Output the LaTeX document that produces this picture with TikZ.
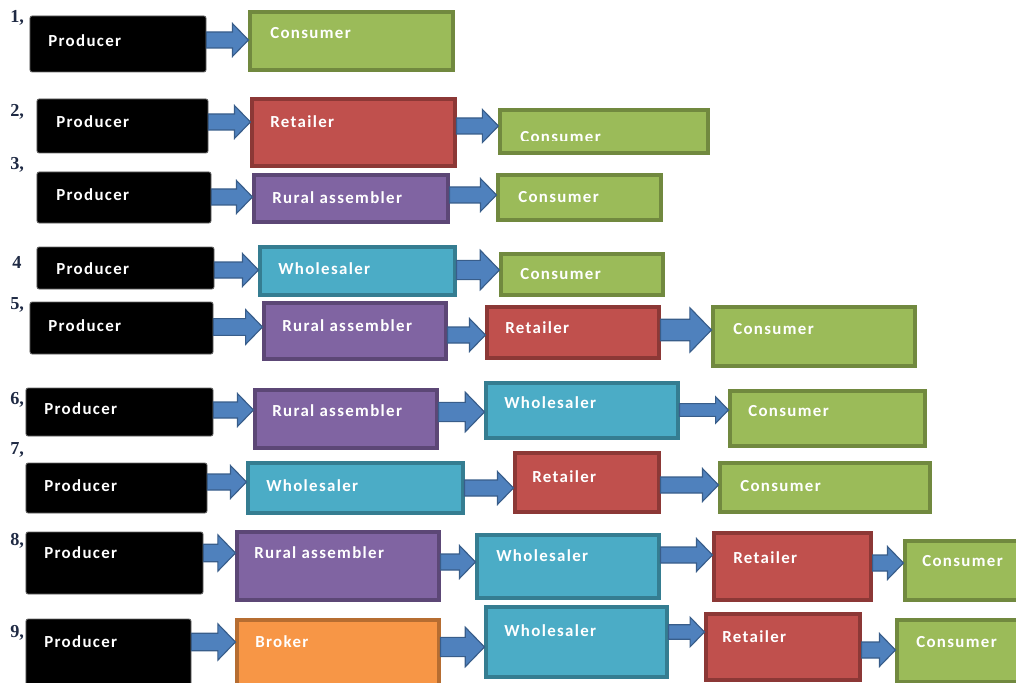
\documentclass[tikz,border=0pt]{standalone}
\usepackage{fontspec}
\newfontfamily\boxfont[LetterSpace=8]{Carlito}
\newfontfamily\numfont{Liberation Serif}
\usetikzlibrary{calc}
\definecolor{gfill}{HTML}{9BBB59}\definecolor{gdraw}{HTML}{71893F}
\definecolor{rfill}{HTML}{C0504D}\definecolor{rdraw}{HTML}{8C3836}
\definecolor{pfill}{HTML}{8064A2}\definecolor{pdraw}{HTML}{5C4776}
\definecolor{cfill}{HTML}{4BACC6}\definecolor{cdraw}{HTML}{357D91}
\definecolor{ofill}{HTML}{F79646}\definecolor{odraw}{HTML}{B66D31}
\definecolor{afill}{HTML}{4F81BD}\definecolor{adraw}{HTML}{385D8A}
\definecolor{numcol}{HTML}{1F2A44}
\tikzset{
 boxbase/.style={rectangle, inner sep=0pt, line width=2.2pt},
 prod/.style={rectangle, inner sep=0pt, fill=black, draw=black!60, line width=0.6pt, rounded corners=1.5pt},
 cons/.style={boxbase, fill=gfill, draw=gdraw},
 reta/.style={boxbase, fill=rfill, draw=rdraw},
 rura/.style={boxbase, fill=pfill, draw=pdraw},
 whol/.style={boxbase, fill=cfill, draw=cdraw},
 brok/.style={boxbase, fill=ofill, draw=odraw},
 lbl/.style={text=white, font=\boxfont\bfseries\fontsize{12}{14}\selectfont, anchor=west, inner sep=0pt},
 num/.style={font=\numfont\bfseries\fontsize{13}{15}\selectfont, anchor=west, inner sep=0pt, text=numcol},
 blk/.style={fill=afill, draw=adraw, line width=0.8pt, line join=miter},
}
% name, style, x1, y1, x2, y2, text x, text y, text
\newcommand\bx[9]{%
 \pgfmathsetmacro\bxw{(#5-#3)*0.025}%
 \pgfmathsetmacro\bxh{(#6-#4)*0.025}%
 \node[#2, minimum width=\bxw cm, minimum height=\bxh cm] (#1) at ({(#3+#5)/2},{(#4+#6)/2}) {};
 \node[lbl] (#1t) at (#7,#8) {#9};}
% from, to, y, scale
\newcommand\arr[4]{%
 \pgfmathsetmacro\as{8*#4}%
 \pgfmathsetmacro\ah{16.5*#4}%
 \pgfmathsetmacro\al{16*#4}%
 \draw[blk] ($(#1.east|-0,#3)+(0,-\as)$) -- ($(#2.west|-0,#3)+(-\al,-\as)$) -- ($(#2.west|-0,#3)+(-\al,-\ah)$) -- (#2.west|-0,#3) -- ($(#2.west|-0,#3)+(-\al,\ah)$) -- ($(#2.west|-0,#3)+(-\al,\as)$) -- ($(#1.east|-0,#3)+(0,\as)$) -- cycle;}
\begin{document}
\begin{tikzpicture}[x=0.025cm,y=-0.025cm]
\useasboundingbox (0,0) rectangle (1016,682);
\clip (0,0) rectangle (1016,682);
% numbers
\node[num] (n1) at (10,18) {1,};
\node[num] (n2) at (10,112) {2,};
\node[num] (n3) at (10,165) {3,};
\node[num] (n4) at (12,262) {4};
\node[num] (n5) at (10,305) {5,};
\node[num] (n6) at (10,400) {6,};
\node[num] (n7) at (10,450) {7,};
\node[num] (n8) at (10,541) {8,};
\node[num] (n9) at (10,633) {9,};
% row 1
\bx{p1}{prod}{30}{16}{206}{72}{48}{41}{Producer}
\bx{c1}{cons}{250}{12}{453}{70}{270}{33}{Consumer}
\arr{p1}{c1}{40}{1}
% row 2
\bx{p2}{prod}{37}{99}{208}{153}{56}{122}{Producer}
\bx{r2}{reta}{252}{99}{455}{166}{270}{122}{Retailer}
\node[cons, minimum width=5.2cm, minimum height=1.075cm] (c2) at (604,131.5) {};
\begin{scope}
\clip (500,100) rectangle (708,140.5);
\node[lbl] (c2t) at (520,137) {Consumer};
\end{scope}
\arr{p2}{r2}{122}{1}
\arr{r2}{c2}{126}{1}
% row 3
\bx{p3}{prod}{37}{172}{211}{223}{56}{195}{Producer}
\bx{a3}{rura}{254}{175}{448}{222}{272}{198}{Rural assembler}
\bx{c3}{cons}{498}{175}{661}{220}{518}{197}{Consumer}
\arr{p3}{a3}{197}{1}
\arr{a3}{c3}{195}{1}
% row 4
\bx{p4}{prod}{37}{247}{214}{289}{56}{269}{Producer}
\bx{w4}{whol}{260}{247}{455}{295}{278}{269}{Wholesaler}
\bx{c4}{cons}{501}{254}{663}{295}{520}{274}{Consumer}
\arr{p4}{w4}{270}{1}
\arr{w4}{c4}{270}{1.2}
% row 5
\bx{p5}{prod}{30}{302}{213}{354}{48}{326}{Producer}
\bx{a5}{rura}{264}{303}{446}{359}{282}{326}{Rural assembler}
\bx{r5}{reta}{487}{307}{659}{358}{505}{328}{Retailer}
\bx{c5}{cons}{713}{307}{915}{366}{733}{329}{Consumer}
\arr{p5}{a5}{327}{1.05}
\arr{a5}{r5}{335}{1}
\arr{r5}{c5}{330}{1.35}
% row 6
\bx{p6}{prod}{26}{388}{213}{436}{44}{409}{Producer}
\bx{a6}{rura}{255}{390}{437}{448}{272}{411}{Rural assembler}
\bx{w6}{whol}{486}{383}{678}{438}{504}{403}{Wholesaler}
\bx{c6}{cons}{730}{391}{925}{446}{748}{411}{Consumer}
\arr{p6}{a6}{410}{1}
\arr{a6}{w6}{412}{1.2}
\arr{w6}{c6}{410}{0.8}
% row 7
\bx{p7}{prod}{26}{463}{207}{513}{44}{486}{Producer}
\bx{w7}{whol}{248}{463}{463}{513}{266}{486}{Wholesaler}
\bx{r7}{reta}{515}{453}{659}{512}{532}{477}{Retailer}
\bx{c7}{cons}{720}{463}{930}{512}{740}{486}{Consumer}
\arr{p7}{w7}{482}{1}
\arr{w7}{r7}{488}{1}
\arr{r7}{c7}{485}{1}
% row 8
\bx{p8}{prod}{26}{532}{203}{594}{44}{553}{Producer}
\bx{a8}{rura}{237}{532}{439}{600}{254}{553}{Rural assembler}
\bx{w8}{whol}{477}{535}{659}{598}{496}{556}{Wholesaler}
\bx{r8}{reta}{714}{533}{871}{600}{733}{558}{Retailer}
\bx{c8}{cons}{905}{541}{1030}{600}{922}{561}{Consumer}
\arr{p8}{a8}{553}{1.1}
\arr{a8}{w8}{562}{1}
\arr{w8}{r8}{555}{1}
\arr{r8}{c8}{563}{1}
% row 9
\bx{p9}{prod}{26}{619}{191}{690}{44}{642}{Producer}
\bx{b9}{brok}{237}{620}{439}{690}{255}{642}{Broker}
\bx{w9}{whol}{486}{607}{667}{677}{504}{631}{Wholesaler}
\bx{r9}{reta}{706}{614}{860}{680}{722}{637}{Retailer}
\bx{c9}{cons}{897}{620}{1030}{682}{916}{642}{Consumer}
\arr{p9}{b9}{642}{1.1}
\arr{b9}{w9}{647}{1.2}
\arr{w9}{r9}{632}{0.9}
\arr{r9}{c9}{650}{1}
\end{tikzpicture}
\end{document}
